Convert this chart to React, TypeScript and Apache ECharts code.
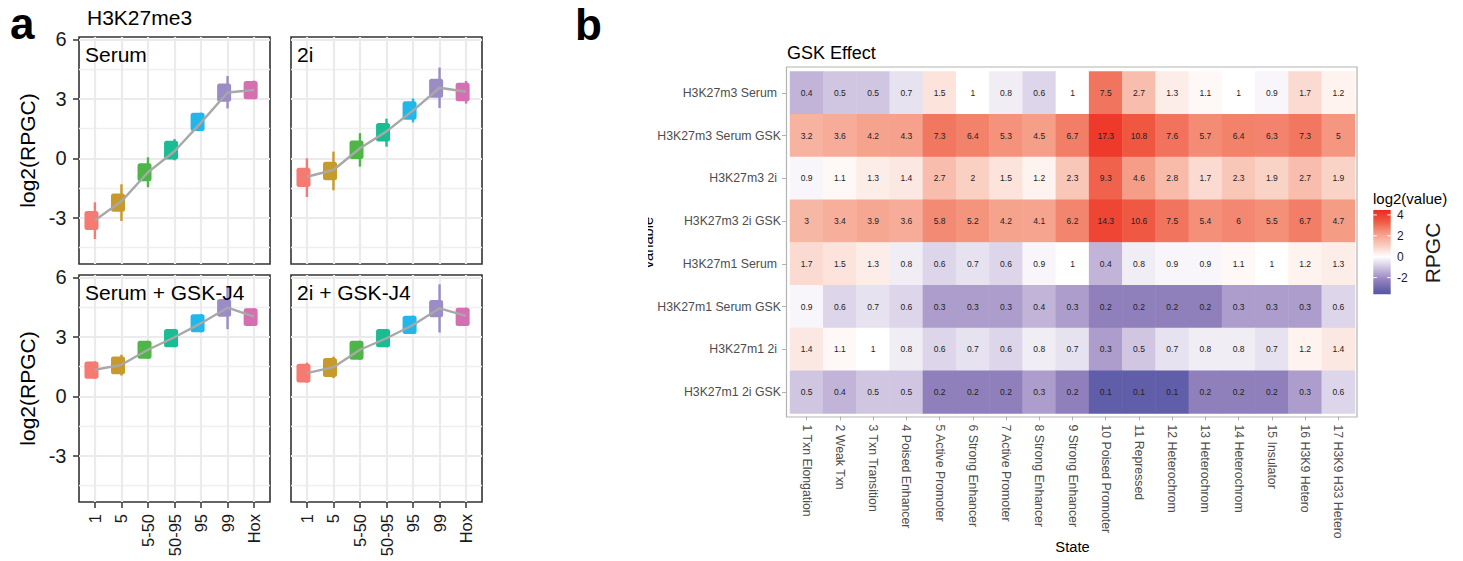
import React, { useEffect, useRef } from "react";
import * as echarts from "echarts";

// ---------- Panel a data ----------
const CATS = ["1", "5", "5-50", "50-95", "95", "99", "Hox"];
const PALETTE = ["#F47A72", "#C79B2B", "#4FB548", "#1ABC94", "#22B7EB", "#9B8CC6", "#D46FB1"];
const PANEL_TITLES = ["Serum", "2i", "Serum + GSK-J4", "2i + GSK-J4"];
const Y_TICKS = [-3, 0, 3, 6];
const Y_MINOR = [-4.5, -1.5, 1.5, 4.5];

const serumLine = [-3.12, -2.17, -0.7, 0.36, 1.8, 3.32, 3.45];
const serumBoxLow = [-3.62, -2.7, -1.16, -0.06, 1.38, 2.86, 2.98];
const serumBoxHigh = [-2.66, -1.77, -0.25, 0.89, 2.3, 3.78, 3.9];
const serumWhiskLow = [-4.07, -3.16, -1.46, -0.1, 1.38, 2.52, 2.98];
const serumWhiskHigh = [-2.22, -1.31, 0.05, 0.97, 2.3, 4.15, 3.92];

const twoiLine = [-0.93, -0.59, 0.51, 1.36, 2.41, 3.56, 3.36];
const twoiBoxLow = [-1.44, -1.1, -0.03, 0.85, 1.95, 3.05, 2.88];
const twoiBoxHigh = [-0.47, -0.17, 0.9, 1.78, 2.88, 4.02, 3.81];
const twoiWhiskLow = [-1.95, -1.61, -0.42, 0.59, 1.81, 2.54, 2.76];
const twoiWhiskHigh = [0.0, 0.34, 1.27, 2.0, 3.02, 4.58, 3.9];

const serumGskLine = [1.34, 1.59, 2.35, 2.98, 3.69, 4.47, 4.02];
const serumGskBoxLow = [0.89, 1.12, 1.89, 2.48, 3.23, 4.02, 3.55];
const serumGskBoxHigh = [1.76, 2.01, 2.8, 3.4, 4.14, 4.91, 4.44];
const serumGskWhiskLow = [0.89, 1.05, 1.89, 2.48, 3.23, 3.39, 3.55];
const serumGskWhiskHigh = [1.76, 2.1, 2.8, 3.4, 4.14, 5.53, 4.44];

const twoiGskLine = [1.17, 1.47, 2.35, 2.93, 3.6, 4.44, 4.06];
const twoiGskBoxLow = [0.7, 0.97, 1.84, 2.48, 3.15, 3.99, 3.55];
const twoiGskBoxHigh = [1.64, 1.93, 2.8, 3.4, 4.07, 4.86, 4.47];
const twoiGskWhiskLow = [0.68, 0.92, 1.84, 2.48, 3.15, 3.22, 3.55];
const twoiGskWhiskHigh = [1.7, 2.0, 2.8, 3.4, 4.07, 5.65, 4.47];

// ---------- Panel b data ----------
const STATES = [
  "1 Txn Elongation", "2 Weak Txn", "3 Txn Transition", "4 Poised Enhancer",
  "5 Active Promoter", "6 Strong Enhancer", "7 Active Promoter", "8 Strong Enhancer",
  "9 Strong Enhancer", "10 Poised Promoter", "11 Repressed", "12 Heterochrom",
  "13 Heterochrom", "14 Heterochrom", "15 Insulator", "16 H3K9 Hetero", "17 H3K9 H33 Hetero",
];
const VARIABLES = [
  "H3K27m3 Serum", "H3K27m3 Serum GSK", "H3K27m3 2i", "H3K27m3 2i GSK",
  "H3K27m1 Serum", "H3K27m1 Serum GSK", "H3K27m1 2i", "H3K27m1 2i GSK",
];
const h3k27m3Serum = [0.4, 0.5, 0.5, 0.7, 1.5, 1, 0.8, 0.6, 1, 7.5, 2.7, 1.3, 1.1, 1, 0.9, 1.7, 1.2];
const h3k27m3SerumGsk = [3.2, 3.6, 4.2, 4.3, 7.3, 6.4, 5.3, 4.5, 6.7, 17.3, 10.8, 7.6, 5.7, 6.4, 6.3, 7.3, 5];
const h3k27m32i = [0.9, 1.1, 1.3, 1.4, 2.7, 2, 1.5, 1.2, 2.3, 9.3, 4.6, 2.8, 1.7, 2.3, 1.9, 2.7, 1.9];
const h3k27m32iGsk = [3, 3.4, 3.9, 3.6, 5.8, 5.2, 4.2, 4.1, 6.2, 14.3, 10.6, 7.5, 5.4, 6, 5.5, 6.7, 4.7];
const h3k27m1Serum = [1.7, 1.5, 1.3, 0.8, 0.6, 0.7, 0.6, 0.9, 1, 0.4, 0.8, 0.9, 0.9, 1.1, 1, 1.2, 1.3];
const h3k27m1SerumGsk = [0.9, 0.6, 0.7, 0.6, 0.3, 0.3, 0.3, 0.4, 0.3, 0.2, 0.2, 0.2, 0.2, 0.3, 0.3, 0.3, 0.6];
const h3k27m12i = [1.4, 1.1, 1, 0.8, 0.6, 0.7, 0.6, 0.8, 0.7, 0.3, 0.5, 0.7, 0.8, 0.8, 0.7, 1.2, 1.4];
const h3k27m12iGsk = [0.5, 0.4, 0.5, 0.5, 0.2, 0.2, 0.2, 0.3, 0.2, 0.1, 0.1, 0.1, 0.2, 0.2, 0.2, 0.3, 0.6];
const LEGEND_TICKS = [4, 2, 0, -2];
const LEGEND_RANGE = [-3.6, 4.47];
const FILL_LIMIT = 4.47;
const FILL_COLORS = ["#373E99", "#5F5CA8", "#9382BD", "#CBBFDE", "#FFFFFF", "#F9CABC", "#F59C85", "#EF5A44", "#ED2A1F"];

const FONT = "'Liberation Sans', Arial, Helvetica, sans-serif";

function hexToRgb(h: string) {
  const n = parseInt(h.slice(1), 16);
  return [(n >> 16) & 255, (n >> 8) & 255, n & 255];
}
function colorAt(v: number) {
  const t = ((v + FILL_LIMIT) / (2 * FILL_LIMIT)) * (FILL_COLORS.length - 1);
  const i = Math.max(0, Math.min(FILL_COLORS.length - 2, Math.floor(t)));
  const f = Math.max(0, Math.min(1, t - i));
  const a = hexToRgb(FILL_COLORS[i]);
  const b = hexToRgb(FILL_COLORS[i + 1]);
  const c = a.map((x, k) => Math.round(x + (b[k] - x) * f));
  return `rgb(${c[0]},${c[1]},${c[2]})`;
}

export default function App() {
  const ref = useRef<HTMLDivElement>(null);
  useEffect(() => {
    if (!ref.current) return;
    const chart = echarts.init(ref.current, null, { renderer: "svg" });

    const panels = [
      { line: serumLine, bl: serumBoxLow, bh: serumBoxHigh, wl: serumWhiskLow, wh: serumWhiskHigh },
      { line: twoiLine, bl: twoiBoxLow, bh: twoiBoxHigh, wl: twoiWhiskLow, wh: twoiWhiskHigh },
      { line: serumGskLine, bl: serumGskBoxLow, bh: serumGskBoxHigh, wl: serumGskWhiskLow, wh: serumGskWhiskHigh },
      { line: twoiGskLine, bl: twoiGskBoxLow, bh: twoiGskBoxHigh, wl: twoiGskWhiskLow, wh: twoiGskWhiskHigh },
    ];
    const gridPos = [
      { left: 79, top: 37 },
      { left: 291, top: 37 },
      { left: 79, top: 275 },
      { left: 291, top: 275 },
    ];
    const PW = 191;
    const PH = 227;
    const YMIN = -5.33;
    const YMAX = 6.12;
    const BOX_DX = -0.13;
    const idx = CATS.map((_, i) => i);

    const grids: any[] = gridPos.map((g) => ({
      left: g.left, top: g.top, width: PW, height: PH,
      show: true, borderColor: "#333", borderWidth: 1.6, backgroundColor: "#fff",
      outerBoundsMode: "none", containLabel: false,
    }));
    grids.push({ left: 790, top: 71.5, width: 565, height: 342, show: false, outerBoundsMode: "none", containLabel: false });

    const xAxes: any[] = gridPos.map((_, i) => {
      const bottom = i >= 2;
      return {
        type: "value", gridIndex: i, min: -0.6, max: 6.6, position: "bottom",
        axisLine: { show: false, onZero: false },
        axisTick: { show: bottom, customValues: idx, length: 6, lineStyle: { color: "#333", width: 1.5 } },
        axisLabel: {
          show: bottom, customValues: idx, formatter: (v: number) => CATS[Math.round(v)] ?? "",
          rotate: 90, margin: 12, fontSize: 16.5, color: "#1a1a1a", fontFamily: FONT,
        },
        splitLine: { show: true, lineStyle: { color: "#EBEBEB", width: 2.2 } },
      };
    });
    xAxes.push({
      type: "category", gridIndex: 4, data: STATES, position: "bottom", offset: 3,
      axisLine: { show: false, onZero: false },
      axisTick: { show: true, alignWithLabel: true, length: 4, interval: 0, lineStyle: { color: "#B3B3B3", width: 1 } },
      axisLabel: { interval: 0, rotate: -90, margin: 8, fontSize: 12.3, color: "#4D4D4D", fontFamily: FONT },
      splitLine: { show: false },
    });

    const yAxes: any[] = [];
    gridPos.forEach((_, i) => {
      const left = i % 2 === 0;
      yAxes.push({
        type: "value", gridIndex: i, min: YMIN, max: YMAX, position: "left",
        axisLine: { show: false, onZero: false },
        axisTick: { show: left, customValues: Y_TICKS, length: 6, lineStyle: { color: "#333", width: 1.5 } },
        axisLabel: { show: left, customValues: Y_TICKS, margin: 12.5, fontSize: 20, color: "#1a1a1a", fontFamily: FONT },
        splitLine: { show: true, lineStyle: { color: "#EBEBEB", width: 2.2 } },
      });
      yAxes.push({
        type: "value", gridIndex: i, min: YMIN, max: YMAX, position: "left",
        axisLine: { show: false, onZero: false },
        axisTick: { show: false, customValues: Y_MINOR },
        axisLabel: { show: false, customValues: Y_MINOR },
        splitLine: { show: true, lineStyle: { color: "#EFEFEF", width: 1.3 } },
      });
    });
    yAxes.push({
      type: "category", gridIndex: 4, data: VARIABLES, inverse: true, position: "left", offset: 4,
      axisLine: { show: false, onZero: false },
      axisTick: { show: true, alignWithLabel: true, length: 4, interval: 0, lineStyle: { color: "#B3B3B3", width: 1 } },
      axisLabel: {
        interval: 0, margin: 5, fontSize: 12.3, color: "#4D4D4D", fontFamily: FONT,
        formatter: (v: string) => (v.endsWith("GSK") ? v : `{p|${v}}`),
        rich: { p: { fontSize: 12.3, color: "#4D4D4D", fontFamily: FONT, padding: [0, 4, 0, 0] } },
      },
      splitLine: { show: false },
    });

    const series: any[] = [];
    panels.forEach((p, i) => {
      series.push({
        type: "custom", xAxisIndex: i, yAxisIndex: 2 * i, z: 2,
        encode: { x: 0, y: [1, 2, 3, 4] },
        data: idx.map((k) => [k, p.bl[k], p.bh[k], p.wl[k], p.wh[k]]),
        renderItem: (_params: any, api: any) => {
          const x = api.value(0);
          const color = PALETTE[Math.round(x)];
          const w1 = api.coord([x, api.value(3)]);
          const w2 = api.coord([x, api.value(4)]);
          const b1 = api.coord([x + BOX_DX, api.value(1)]);
          const b2 = api.coord([x + BOX_DX, api.value(2)]);
          return {
            type: "group",
            children: [
              { type: "line", shape: { x1: w1[0], y1: w1[1], x2: w2[0], y2: w2[1] }, style: { stroke: color, lineWidth: 2.4 } },
              { type: "rect", shape: { x: b1[0] - 7, y: b2[1], width: 14, height: b1[1] - b2[1], r: 2.5 }, style: { fill: color } },
            ],
          };
        },
      });
      series.push({
        type: "line", xAxisIndex: i, yAxisIndex: 2 * i, z: 3,
        data: idx.map((k) => [k, p.line[k]]),
        symbol: "none", lineStyle: { color: "#A8A8A8", width: 2.4 }, silent: true,
      });
    });

    const rows = [h3k27m3Serum, h3k27m3SerumGsk, h3k27m32i, h3k27m32iGsk, h3k27m1Serum, h3k27m1SerumGsk, h3k27m12i, h3k27m12iGsk];
    const heatData: any[] = [];
    rows.forEach((r, ri) => r.forEach((v, ci) => heatData.push([ci, ri, Math.log2(v)])));
    series.push({
      type: "heatmap", xAxisIndex: 4, yAxisIndex: 8,
      data: heatData,
      itemStyle: { borderWidth: 0 },
      label: {
        show: true, fontSize: 8.5, color: "#222", fontFamily: FONT,
        formatter: (p: any) => String(rows[p.value[1]][p.value[0]]),
      },
    });
    const heatIndex = series.length - 1;

    // colorbar geometry
    const CB = { x: 1373.3, y: 210, w: 17.4, h: 84.3 };
    const span = LEGEND_RANGE[1] - LEGEND_RANGE[0];
    const yOf = (v: number) => CB.y + ((LEGEND_RANGE[1] - v) / span) * CB.h;
    const stops: any[] = [{ offset: 0, color: colorAt(LEGEND_RANGE[1]) }];
    FILL_COLORS.forEach((_, k) => {
      const v = -FILL_LIMIT + (k * 2 * FILL_LIMIT) / (FILL_COLORS.length - 1);
      if (v > LEGEND_RANGE[0] && v < LEGEND_RANGE[1]) {
        stops.push({ offset: (LEGEND_RANGE[1] - v) / span, color: colorAt(v) });
      }
    });
    stops.push({ offset: 1, color: colorAt(LEGEND_RANGE[0]) });
    stops.sort((a, b) => a.offset - b.offset);

    const graphics: any[] = [
      { type: "text", x: 10, y: 23, style: { text: "a", font: `bold 44px ${FONT}`, fill: "#000", verticalAlign: "middle", align: "left" } },
      { type: "text", x: 575, y: 24, style: { text: "b", font: `bold 44px ${FONT}`, fill: "#000", verticalAlign: "middle", align: "left" } },
      { type: "text", x: 87, y: 17, style: { text: "H3K27me3", font: `21px ${FONT}`, fill: "#000", verticalAlign: "middle" } },
      { type: "text", x: 27, y: 150.5, rotation: Math.PI / 2, style: { text: "log2(RPGC)", font: `21px ${FONT}`, fill: "#000", align: "center", verticalAlign: "middle" } },
      { type: "text", x: 27, y: 388.5, rotation: Math.PI / 2, style: { text: "log2(RPGC)", font: `21px ${FONT}`, fill: "#000", align: "center", verticalAlign: "middle" } },
      // panel b
      { type: "rect", shape: { x: 786.5, y: 67, width: 570.5, height: 350 }, style: { fill: "none", stroke: "#B3B3B3", lineWidth: 1.2 }, z: 10 },
      { type: "text", x: 787, y: 53, style: { text: "GSK Effect", font: `18px ${FONT}`, fill: "#000", verticalAlign: "middle" } },
      { type: "text", x: 1072.5, y: 547, style: { text: "State", font: `14.7px ${FONT}`, fill: "#000", align: "center", verticalAlign: "middle" } },
      { type: "text", x: 655, y: 242.5, rotation: Math.PI / 2, style: { text: "variable", font: `14.7px ${FONT}`, fill: "#000", align: "center", verticalAlign: "bottom" }, z: 1 },
      { type: "rect", shape: { x: 560, y: 205, width: 88, height: 75 }, style: { fill: "#fff" }, z: 5 },
      { type: "text", x: 1373, y: 198, style: { text: "log2(value)", font: `15px ${FONT}`, fill: "#000", verticalAlign: "middle" } },
      { type: "text", x: 1432, y: 253, rotation: Math.PI / 2, style: { text: "RPGC", font: `21px ${FONT}`, fill: "#1a1a1a", align: "center", verticalAlign: "middle" } },
      {
        type: "rect", shape: { x: CB.x, y: CB.y, width: CB.w, height: CB.h },
        style: { fill: { type: "linear", x: 0, y: 0, x2: 0, y2: 1, colorStops: stops } },
      },
    ];
    PANEL_TITLES.forEach((t, i) => {
      graphics.push({ type: "text", x: gridPos[i].left + 6, y: gridPos[i].top + 17, z: 10, style: { text: t, font: `21px ${FONT}`, fill: "#000", verticalAlign: "middle" } });
    });
    LEGEND_TICKS.forEach((v) => {
      const y = yOf(v);
      graphics.push({ type: "line", shape: { x1: CB.x, y1: y, x2: CB.x + 3.5, y2: y }, style: { stroke: "#fff", lineWidth: 1 }, z: 11 });
      graphics.push({ type: "line", shape: { x1: CB.x + CB.w - 3.5, y1: y, x2: CB.x + CB.w, y2: y }, style: { stroke: "#fff", lineWidth: 1 }, z: 11 });
      graphics.push({ type: "text", x: 1397, y, style: { text: String(v), font: `12px ${FONT}`, fill: "#1a1a1a", verticalAlign: "middle", align: "left" } });
    });

    chart.setOption({
      animation: false,
      backgroundColor: "#fff",
      textStyle: { fontFamily: FONT },
      grid: grids,
      xAxis: xAxes,
      yAxis: yAxes,
      visualMap: {
        type: "continuous", show: false, seriesIndex: heatIndex, dimension: 2,
        min: -FILL_LIMIT, max: FILL_LIMIT,
        inRange: { color: FILL_COLORS },
      },
      series,
      graphic: graphics,
    });
    return () => chart.dispose();
  }, []);
  return <div ref={ref} style={{ position: "fixed", left: 0, top: 0, width: 1463, height: 561 }} />;
}
